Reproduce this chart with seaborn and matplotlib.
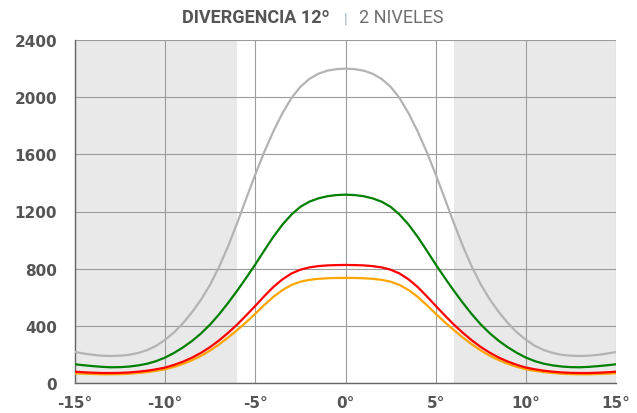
# Divergencia 12 - 2 niveles: intensity profile by angle

import numpy as np
import pandas as pd
import matplotlib
matplotlib.use('Agg')
import matplotlib.pyplot as plt
import seaborn as sns

# Data (one value every half degree, -15 .. 15)
angles = list(np.arange(-15, 15.5, 0.5))
gray_vals = [217, 206, 197, 191, 189, 191, 197, 210, 230, 260, 303, 355, 420, 497, 585, 690,
             815, 960, 1122, 1292, 1460, 1618, 1761, 1887, 1993, 2073, 2128, 2164, 2186, 2196, 2200,
             2196, 2186, 2164, 2128, 2073, 1993, 1887, 1761, 1618, 1460, 1292, 1122, 960, 815,
             690, 585, 497, 420, 355, 303, 260, 230, 210, 197, 191, 189, 191, 197, 206, 217]
green_vals = [131, 124, 118, 113, 110, 111, 115, 123, 135, 153, 178, 211, 250, 295, 348, 410,
              482, 562, 647, 737, 830, 928, 1023, 1108, 1178, 1233, 1269, 1292, 1307, 1315, 1318,
              1315, 1307, 1292, 1269, 1233, 1178, 1108, 1023, 928, 830, 737, 647, 562, 482,
              410, 348, 295, 250, 211, 178, 153, 135, 123, 115, 111, 110, 113, 118, 124, 131]
orange_vals = [68, 65, 63, 61, 61, 62, 65, 70, 76, 85, 96, 113, 134, 160, 191, 228,
               271, 319, 371, 426, 485, 546, 603, 650, 686, 709, 722, 729, 733, 735, 735,
               735, 733, 729, 722, 709, 686, 650, 603, 546, 485, 426, 371, 319, 271,
               228, 191, 160, 134, 113, 96, 85, 76, 70, 65, 62, 61, 61, 63, 65, 68]
red_vals = [79, 75, 72, 70, 70, 71, 74, 79, 86, 96, 108, 127, 150, 178, 212, 252,
            299, 352, 410, 474, 540, 608, 672, 725, 766, 793, 809, 818, 823, 825, 826,
            825, 823, 818, 809, 793, 766, 725, 672, 608, 540, 474, 410, 352, 299,
            252, 212, 178, 150, 127, 108, 96, 86, 79, 74, 71, 70, 70, 72, 75, 79]

series_names = ['gris', 'verde', 'naranja', 'rojo']
series_colors = ['#b3b3b3', '#008000', '#ffa500', '#ff0000']
x_ticks = [-15, -10, -5, 0, 5, 10, 15]
y_ticks = [0, 400, 800, 1200, 1600, 2000, 2400]
shade_ranges = [(-15, -6), (6, 15)]

df = pd.DataFrame({
    'angle': angles * 4,
    'value': gray_vals + green_vals + orange_vals + red_vals,
    'serie': sum([[n] * len(angles) for n in series_names], []),
})

sns.set_style('white')

fig = plt.figure(figsize=(6.37, 4.14), dpi=100)
ax = fig.add_axes([75 / 637, 30 / 414, 541 / 637, 343 / 414])

for lo, hi in shade_ranges:
    ax.axvspan(lo, hi, color='#e9e9e9', lw=0, zorder=0)

for x in x_ticks:
    ax.axvline(x, color='#9c9c9c', lw=0.8, zorder=1)
for y in y_ticks:
    ax.axhline(y, color='#9c9c9c', lw=0.8, zorder=1)

sns.lineplot(data=df, x='angle', y='value', hue='serie', hue_order=series_names,
             palette=series_colors, lw=1.6, legend=False, ax=ax, zorder=3)

ax.set_xlim(-15, 15)
ax.set_ylim(0, 2400)
ax.set_xticks(x_ticks)
ax.set_xticklabels([f'{v}°' for v in x_ticks])
ax.set_yticks(y_ticks)
ax.set_xlabel('')
ax.set_ylabel('')
ax.tick_params(axis='both', length=0, labelsize=11, labelcolor='#555555')
ax.tick_params(axis='x', pad=9)
ax.tick_params(axis='y', pad=13)
for lab in ax.get_xticklabels() + ax.get_yticklabels():
    lab.set_fontweight('bold')
    lab.set_family('DejaVu Sans')

for side in ['top', 'right']:
    ax.spines[side].set_visible(False)
for side in ['left', 'bottom']:
    ax.spines[side].set_color('#666666')
    ax.spines[side].set_linewidth(1)

# Title made of three pieces
ty = 1 - 23.3 / 414
fig.text(182 / 637, ty, 'DIVERGENCIA 12º', family='Roboto', weight='bold', size=13,
         color='#555555', va='baseline', ha='left')
fig.text(346 / 637, ty, '|', family='Roboto', size=11, color='#9fb3c8',
         va='baseline', ha='center')
fig.text(359 / 637, ty, '2 NIVELES', family='Roboto', size=13, color='#6e6e6e',
         va='baseline', ha='left')

plt.savefig('out.png', dpi=100)
